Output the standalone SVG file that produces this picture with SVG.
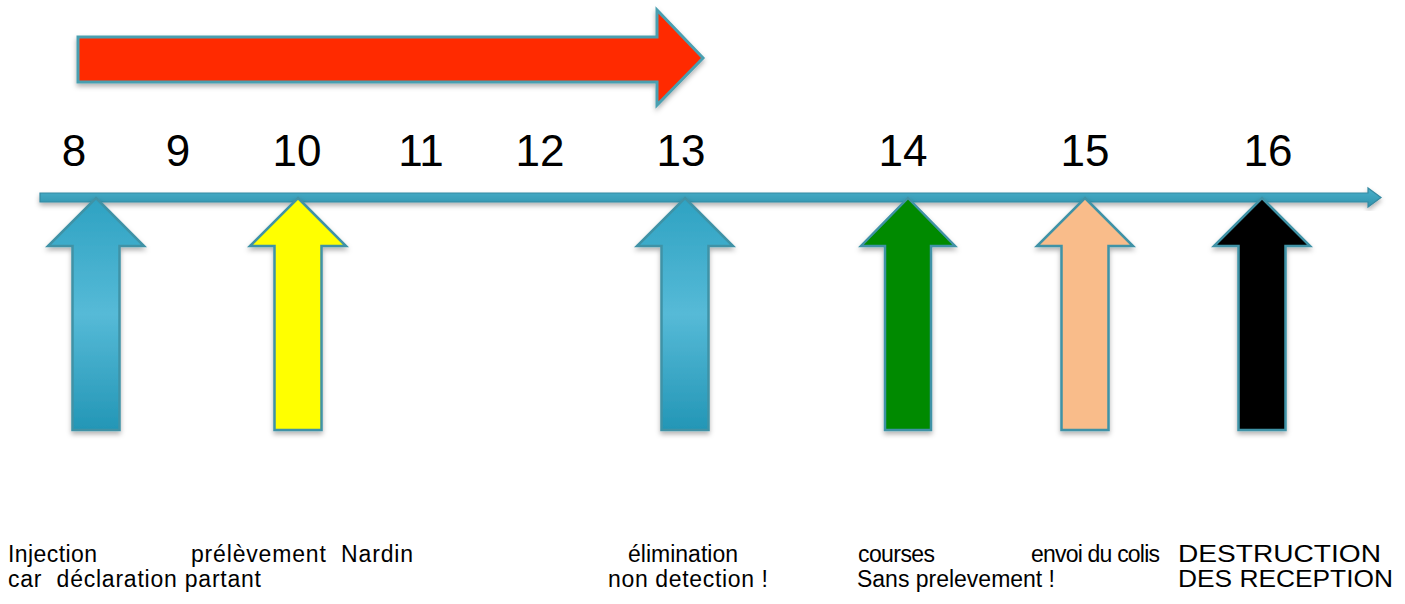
<svg xmlns="http://www.w3.org/2000/svg" width="1405" height="604" viewBox="0 0 1405 604">
<style>
.num{font-family:"Liberation Sans",Arial,sans-serif;font-size:44px;fill:#000;text-anchor:middle}
.lbl{font-family:"Liberation Sans",Arial,sans-serif;font-size:23px;fill:#000;white-space:pre}
.up{stroke:#3f92a6;stroke-width:2.5;stroke-linejoin:miter;filter:url(#sh)}
</style>
<defs>
<filter id="sh" x="-20%" y="-20%" width="140%" height="140%">
<feDropShadow dx="0" dy="3" stdDeviation="2.5" flood-color="#000" flood-opacity="0.3"/>
</filter>
<linearGradient id="teal" x1="0" y1="0" x2="0" y2="1">
<stop offset="0" stop-color="#2ea2c2"/>
<stop offset="0.5" stop-color="#56bad7"/>
<stop offset="1" stop-color="#2396b6"/>
</linearGradient>
<linearGradient id="line" x1="0" y1="0" x2="0" y2="1">
<stop offset="0" stop-color="#4ab0cb"/>
<stop offset="1" stop-color="#2f93ad"/>
</linearGradient>
</defs>
<rect width="1405" height="604" fill="#fff"/>

<g id="red-arrow">
<path d="M78,37 H657 V10 L703,58 L657,105 V82 H78 Z" fill="#ff2a00" stroke="#4a9fb0" stroke-width="3" filter="url(#sh)"/>
</g>

<g id="hours">
<text class="num" x="74" y="166">8</text>
<text class="num" x="178" y="166">9</text>
<text class="num" x="297" y="166">10</text>
<text class="num" x="421" y="166">11</text>
<text class="num" x="540" y="166">12</text>
<text class="num" x="681" y="166">13</text>
<text class="num" x="903" y="166">14</text>
<text class="num" x="1085" y="166">15</text>
<text class="num" x="1268" y="166">16</text>
</g>

<g id="connectors">
<path d="M40,193 H1368 V188 L1381,197.5 L1368,207 V202 H40 Z" fill="url(#line)" stroke="#3589a1" stroke-width="1.2" filter="url(#sh)"/>
</g>

<g id="arrow-8">
<path class="up" d="M96,198 L144,246 H119.5 V430 H72.5 V246 H48 Z" fill="url(#teal)"/>
</g>
<g id="arrow-10">
<path class="up" d="M298,198 L346,246 H321.5 V430 H274.5 V246 H250 Z" fill="#ffff00"/>
</g>
<g id="arrow-13">
<path class="up" d="M685,198 L733,246 H708.5 V430 H661.5 V246 H637 Z" fill="url(#teal)"/>
</g>
<g id="arrow-14">
<path class="up" d="M908,198 L955,246 H931 V430 H885 V246 H861 Z" fill="#008a00"/>
</g>
<g id="arrow-15">
<path class="up" d="M1085,198 L1133,246 H1108.5 V430 H1061.5 V246 H1037 Z" fill="#f9bc8a"/>
</g>
<g id="arrow-16">
<path class="up" d="M1262,198 L1310,246 H1285.5 V430 H1238.5 V246 H1214 Z" fill="#000"/>
</g>

<g id="labels">
<text class="lbl" x="8" y="562" textLength="89" lengthAdjust="spacing">Injection</text>
<text class="lbl" x="191" y="562" textLength="222" lengthAdjust="spacing">prélèvement  Nardin</text>
<text class="lbl" x="628" y="562" textLength="110" lengthAdjust="spacing">élimination</text>
<text class="lbl" x="858" y="562" textLength="77" lengthAdjust="spacing">courses</text>
<text class="lbl" x="1031" y="562" textLength="129" lengthAdjust="spacing">envoi du colis</text>
<text class="lbl" x="1178" y="562" textLength="203" lengthAdjust="spacingAndGlyphs">DESTRUCTION</text>
<text class="lbl" x="8" y="587" textLength="253" lengthAdjust="spacing">car  déclaration partant</text>
<text class="lbl" x="608" y="587" textLength="160" lengthAdjust="spacing">non detection !</text>
<text class="lbl" x="857" y="587" textLength="198" lengthAdjust="spacing">Sans prelevement !</text>
<text class="lbl" x="1178" y="587" textLength="215" lengthAdjust="spacingAndGlyphs">DES RECEPTION</text>
</g>
</svg>
